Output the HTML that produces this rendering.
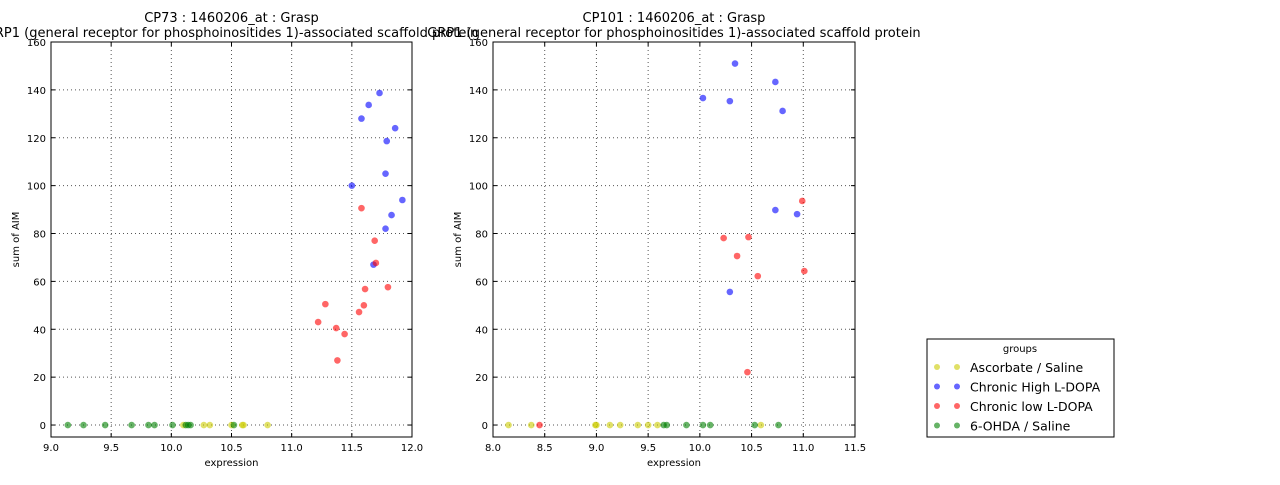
<!DOCTYPE html>
<html><head><meta charset="utf-8"><style>
body{margin:0;background:#fff;}
svg{font-family:"DejaVu Sans","Liberation Sans",sans-serif;}
</style></head><body>
<svg id="c" width="1280" height="480" xmlns="http://www.w3.org/2000/svg"></svg>
<script>
const groupNames=["Ascorbate / Saline","Chronic High L-DOPA","Chronic low L-DOPA","6-OHDA / Saline"];
const groupColors=["#cccc00","#0000ff","#ff0000","#008000"];
const yTicks=[0,20,40,60,80,100,120,140,160];
const leftXTicks=[9.0,9.5,10.0,10.5,11.0,11.5,12.0];
const rightXTicks=[8.0,8.5,9.0,9.5,10.0,10.5,11.0,11.5];
// left panel data
const leftYellowX=[10.10,10.27,10.32,10.50,10.59,10.60,10.80];
const leftYellowY=[0,0,0,0,0,0,0];
const leftBlueX=[11.73,11.64,11.58,11.86,11.79,11.78,11.50,11.92,11.83,11.78,11.68];
const leftBlueY=[138.7,133.7,128,124,118.6,105,100,94,87.7,82,67];
const leftRedX=[11.58,11.69,11.70,11.80,11.61,11.28,11.60,11.56,11.22,11.37,11.44,11.38];
const leftRedY=[90.6,77,67.7,57.6,56.8,50.5,50,47.2,43,40.5,38,27];
const leftGreenX=[9.14,9.27,9.45,9.67,9.81,9.86,10.01,10.12,10.14,10.16,10.52];
const leftGreenY=[0,0,0,0,0,0,0,0,0,0,0];
// right panel data
const rightYellowX=[8.15,8.37,8.99,9.0,9.13,9.23,9.40,9.50,9.59,10.59];
const rightYellowY=[0,0,0,0,0,0,0,0,0,0];
const rightBlueX=[10.34,10.73,10.03,10.29,10.80,10.73,10.94,10.29];
const rightBlueY=[151,143.3,136.6,135.3,131.2,89.8,88.1,55.6];
const rightRedX=[10.99,10.23,10.47,10.36,10.56,11.01,10.46,8.45];
const rightRedY=[93.6,78.1,78.5,70.6,62.2,64.3,22.1,0];
const rightGreenX=[9.65,9.68,9.87,10.03,10.10,10.53,10.76];
const rightGreenY=[0,0,0,0,0,0,0];

const NS="http://www.w3.org/2000/svg";
const svg=document.getElementById('c');
function mk(tag,attrs,parent){const e=document.createElementNS(NS,tag);for(const k in attrs)e.setAttribute(k,attrs[k]);(parent||svg).appendChild(e);return e;}
function txt(s,attrs,parent){const e=mk('text',attrs,parent);e.textContent=s;return e;}

function panel(key,x0,x1,xmin,xmax,xticks,title1,title2,series){
  const y0=42,y1=437,ymin=-5,ymax=160;
  const sx=v=>x0+(v-xmin)/(xmax-xmin)*(x1-x0);
  const sy=v=>y1-(v-ymin)/(ymax-ymin)*(y1-y0);
  const g=mk('g',{});
  
  
  xticks.forEach(t=>{
    const x=sx(t);
    const l=mk('line',{x1:x,x2:x,y1:y0,y2:y1,stroke:'#555','stroke-dasharray':'1,3','stroke-width':1},g);
    
    mk('line',{x1:x,x2:x,y1:y1,y2:y1-4,stroke:'#000'},g);
    mk('line',{x1:x,x2:x,y1:y0,y2:y0+4,stroke:'#000'},g);
    const tl=txt(t.toFixed(1),{x:x,y:y1+14,'font-size':10,'text-anchor':'middle'},g);
    
  });
  yTicks.forEach(t=>{
    const y=sy(t);
    const l=mk('line',{x1:x0,x2:x1,y1:y,y2:y,stroke:'#555','stroke-dasharray':'1,3','stroke-width':1},g);
    
    mk('line',{x1:x0,x2:x0+4,y1:y,y2:y,stroke:'#000'},g);
    mk('line',{x1:x1,x2:x1-4,y1:y,y2:y,stroke:'#000'},g);
    const tl=txt(String(t),{x:x0-5,y:y+4,'font-size':10,'text-anchor':'end'},g);
    
  });
  series.forEach((s,i)=>{
    s[0].forEach((xv,j)=>{
      const c=mk('circle',{cx:sx(xv),cy:sy(s[1][j]),r:3.3,fill:groupColors[i],'fill-opacity':0.6},g);
      
      
    });
  });
  const f=mk('rect',{x:x0,y:y0,width:x1-x0,height:y1-y0,fill:'none',stroke:'#000','stroke-width':1},g);
  
  const cx=(x0+x1)/2;
  const t1=txt(title1,{x:cx,y:22,'font-size':13,'text-anchor':'middle'},g);
  
  const t2=txt(title2,{x:cx,y:37,'font-size':13,'text-anchor':'middle'},g);
  
  const xl=txt('expression',{x:cx,y:466,'font-size':10,'text-anchor':'middle'},g);
  
  const yl=txt('sum of AIM',{x:0,y:0,'font-size':10,'text-anchor':'middle',transform:`translate(${x0-32},${(y0+y1)/2}) rotate(-90)`},g);
  
}
const sub="GRP1 (general receptor for phosphoinositides 1)-associated scaffold protein";
panel('left',51,412,9.0,12.0,leftXTicks,"CP73 : 1460206_at : Grasp",sub,
  [[leftYellowX,leftYellowY],[leftBlueX,leftBlueY],[leftRedX,leftRedY],[leftGreenX,leftGreenY]]);
panel('right',493,855,8.0,11.5,rightXTicks,"CP101 : 1460206_at : Grasp",sub,
  [[rightYellowX,rightYellowY],[rightBlueX,rightBlueY],[rightRedX,rightRedY],[rightGreenX,rightGreenY]]);

// legend
const lg=mk('g',{});


mk('rect',{x:927,y:339,width:187,height:98,fill:'#fff',stroke:'#000'},lg);
txt('groups',{x:1020,y:352,'font-size':10,'text-anchor':'middle'},lg);
groupNames.forEach((n,i)=>{
  const y=367+i*19.5;
  const e=mk('g',{},lg);
  
  
  mk('circle',{cx:937,cy:y,r:3,fill:groupColors[i],'fill-opacity':0.6},e);
  mk('circle',{cx:957,cy:y,r:3,fill:groupColors[i],'fill-opacity':0.6},e);
  txt(n,{x:970,y:y+5,'font-size':12.5},e);
});
</script>
</body></html>
